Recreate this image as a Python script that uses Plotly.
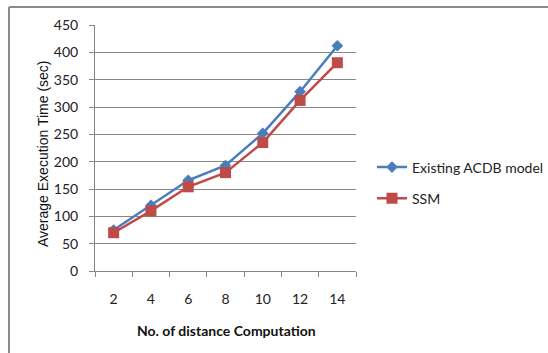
import plotly.graph_objects as go

categories = [2, 4, 6, 8, 10, 12, 14]
acdb = [75, 120, 166, 193, 252, 328, 412]
ssm = [70, 110, 154, 180, 235, 312, 381]
y_ticks = [0, 50, 100, 150, 200, 250, 300, 350, 400, 450]

FONT = "Lato"
BLUE = "#4A7EBB"
RED = "#BE4B48"

fig = go.Figure()
fig.add_trace(go.Scatter(x=categories, y=acdb, name="Existing ACDB model", mode="lines+markers",
                         line=dict(color=BLUE, width=2.5), marker=dict(symbol="diamond", size=9, color=BLUE),
                         legendgroup="a"))
fig.add_trace(go.Scatter(x=categories, y=ssm, name="SSM", mode="lines+markers",
                         line=dict(color=RED, width=2.5), marker=dict(symbol="square", size=11, color=RED),
                         legendgroup="b"))

L, R, T, B = 95, 192, 25, 82
W, H = 548, 353
pw = W - L - R
ph = H - T - B

def px_x(p):
    return (p - L) / pw

def px_y(p):
    return (H - B - p) / ph

fig.update_layout(
    width=W, height=H,
    margin=dict(l=L, r=R, t=T, b=B, autoexpand=False),
    paper_bgcolor="white", plot_bgcolor="white",
    font=dict(family=FONT, size=14, color="#222"),
    showlegend=True,
    legend=dict(x=px_x(372), xanchor="left", y=px_y(183), yanchor="middle",
                font=dict(size=14, family=FONT), tracegroupgap=10, itemwidth=30,
                bgcolor="rgba(0,0,0,0)"),
    xaxis=dict(range=[1, 15], tickvals=categories, ticktext=[str(c) for c in categories],
               showgrid=False, zeroline=False, showline=True, linecolor="#868686", linewidth=1,
               ticks="", ticklabelstandoff=15, tickfont=dict(size=14),
               minor=dict(tickvals=[1, 3, 5, 7, 9, 11, 13, 15], ticks="outside", ticklen=5,
                          tickcolor="#868686", showgrid=False)),
    yaxis=dict(range=[0, 450], tickvals=y_ticks, showgrid=True, gridcolor="#868686", gridwidth=1,
               zeroline=False, showline=True, linecolor="#868686", linewidth=1,
               ticks="outside", ticklen=5, tickcolor="#868686", ticklabelstandoff=8,
               tickfont=dict(size=14)),
    annotations=[
        dict(text="Average Execution Time (sec)", x=px_x(43), y=px_y(154), xref="paper", yref="paper",
             xanchor="center", yanchor="middle",
             textangle=-90, showarrow=False, font=dict(size=14, family="Liberation Sans", color="#111")),
        dict(text="<b>No. of distance Computation</b>", x=px_x(226), y=px_y(330), xref="paper", yref="paper",
             xanchor="center", yanchor="middle",
             showarrow=False, font=dict(size=14, family=FONT, color="#111")),
    ],
    shapes=[
        dict(type="line", xref="paper", yref="paper", x0=px_x(9), x1=px_x(548), y0=px_y(7), y1=px_y(7),
             line=dict(color="#8a8a8a", width=2)),
        dict(type="line", xref="paper", yref="paper", x0=px_x(9), x1=px_x(9), y0=px_y(7), y1=px_y(353),
             line=dict(color="#8a8a8a", width=2)),
    ],
)

fig.write_html("out.html")
